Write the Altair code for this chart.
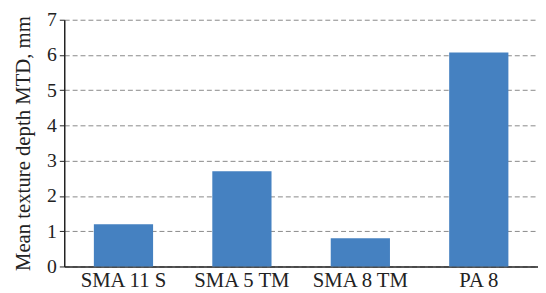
import altair as alt
import pandas as pd

categories = ["SMA 11 S", "SMA 5 TM", "SMA 8 TM", "PA 8"]
values = [1.2, 2.7, 0.8, 6.07]

df = pd.DataFrame({"cat": categories, "val": values})

font = "Liberation Serif"

chart = alt.Chart(df).mark_bar(color="#4581c1").encode(
    x=alt.X("cat:N", sort=categories, title=None,
            scale=alt.Scale(paddingInner=0.5, paddingOuter=0.25),
            axis=alt.Axis(labelAngle=0, labelFont=font, labelFontSize=21, labelColor="#222",
                          ticks=False, domainColor="#222", domainWidth=1.5, labelPadding=3)),
    y=alt.Y("val:Q", title="Mean texture depth MTD, mm",
            scale=alt.Scale(domain=[0, 7]),
            axis=alt.Axis(values=[0, 1, 2, 3, 4, 5, 6, 7], labelFont=font, labelFontSize=20,
                          labelColor="#222", titleFont=font, titleFontSize=21, titleFontWeight="normal",
                          titleColor="#222", domainColor="#222", domainWidth=1.5,
                          tickColor="#222", tickSize=5, labelPadding=3, titlePadding=13,
                          grid=True, gridColor="#888", gridDash=[5, 3], gridWidth=1)),
).properties(
    width=480, height=250,
    autosize=alt.AutoSizeParams(type="none"),
    padding={"left": 57, "top": 10, "right": 0, "bottom": 25},
).configure_view(stroke=None)

chart.save("out.html", embed_options={"renderer": "svg", "actions": False})
